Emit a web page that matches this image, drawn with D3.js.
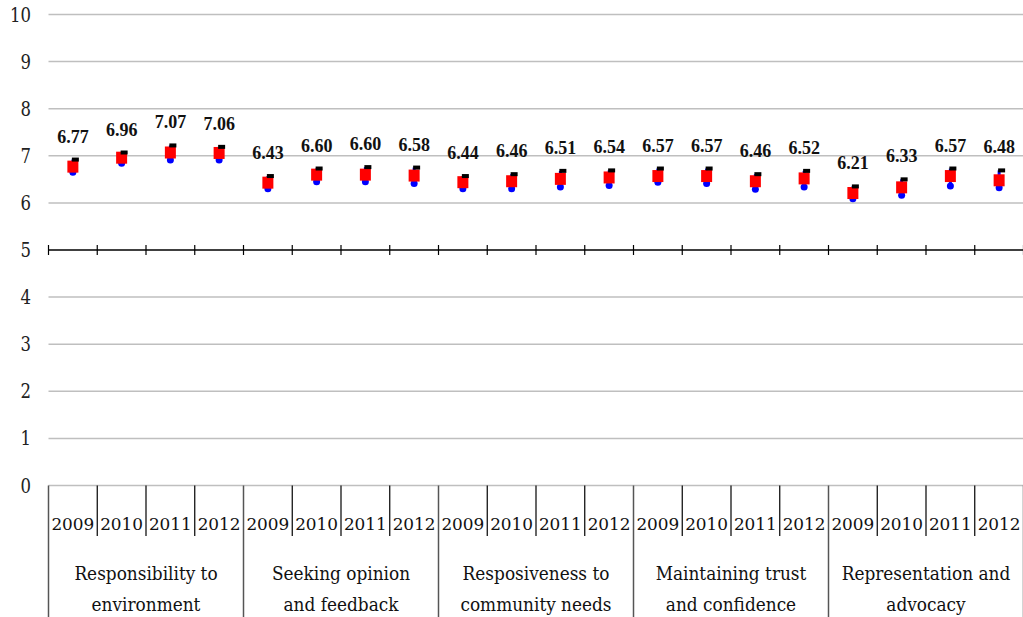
<!DOCTYPE html>
<html>
<head>
<meta charset="utf-8">
<script src="https://cdn.jsdelivr.net/npm/d3@7"></script>
<style>
  html, body { margin: 0; padding: 0; background: #fff; }
  svg { display: block; }
</style>
</head>
<body>
<svg id="chart" width="1023" height="617"></svg>
<script>
// Survey scores per dimension and year
const groups = [
  ["Responsibility to", "environment"],
  ["Seeking opinion", "and feedback"],
  ["Resposiveness to", "community needs"],
  ["Maintaining trust", "and confidence"],
  ["Representation and", "advocacy"]
];
const years = ["2009", "2010", "2011", "2012"];
const scores = [6.77, 6.96, 7.07, 7.06, 6.43, 6.60, 6.60, 6.58, 6.44, 6.46, 6.51, 6.54,
                6.57, 6.57, 6.46, 6.52, 6.21, 6.33, 6.57, 6.48];
const highs  = [6.92, 7.07, 7.22, 7.19, 6.57, 6.73, 6.76, 6.75, 6.57, 6.61, 6.68, 6.69,
                6.73, 6.73, 6.61, 6.68, 6.35, 6.50, 6.73, 6.69];
const lows   = [6.65, 6.84, 6.91, 6.91, 6.30, 6.45, 6.45, 6.41, 6.30, 6.30, 6.34, 6.37,
                6.44, 6.41, 6.29, 6.34, 6.09, 6.16, 6.36, 6.32];
const yTicks = [0, 1, 2, 3, 4, 5, 6, 7, 8, 9, 10];

const SERIF = "'DejaVu Serif', serif";
const BOLD_SERIF = "'Liberation Serif', serif";
const svg = d3.select("#chart").attr("font-family", SERIF);
const plotLeft = 48.5, plotRight = 1023.5, plotTop = 14.5, plotBottom = 485.5;

const keys = [];
groups.forEach((g, gi) => years.forEach(yr => keys.push(gi + "-" + yr)));
const points = keys.map((k, i) => ({
  key: k, year: years[i % 4], v: scores[i], hi: highs[i], lo: lows[i]
}));

const x = d3.scaleBand().domain(keys).range([plotLeft, plotRight]).padding(0);
const y = d3.scaleLinear().domain([0, 10]).range([plotBottom, plotTop]);
const bw = x.bandwidth();

// Gridlines (5 is drawn as the crossing axis)
svg.append("g").selectAll("line")
  .data(yTicks.filter(t => t !== 5))
  .join("line")
  .attr("x1", plotLeft).attr("x2", plotRight)
  .attr("y1", d => y(d)).attr("y2", d => y(d))
  .attr("stroke", "#bfbfbf").attr("stroke-width", 1.5);

// Y tick labels
svg.append("g").selectAll("text")
  .data(yTicks)
  .join("text")
  .attr("x", 31).attr("y", d => y(d) + 7)
  .attr("text-anchor", "end")
  .attr("font-family", SERIF)
  .attr("font-size", 20).attr("fill", "#222")
  .attr("textLength", d => (String(d).length === 2 ? 21 : 10.5))
  .attr("lengthAdjust", "spacingAndGlyphs")
  .text(d => d);

// Horizontal axis crossing at 5 with category ticks
const axisY = y(5);
const axis = d3.axisBottom(x).tickSize(0).tickFormat("");
const ax = svg.append("g").attr("transform", `translate(0,${axisY})`).call(axis);
ax.select(".domain").attr("stroke", "#000").attr("stroke-width", 1.5).attr("d", `M${plotLeft},0H${plotRight}`);
const boundaries = d3.range(keys.length + 1).map(i => plotLeft + i * bw);
svg.append("g").selectAll("line")
  .data(boundaries)
  .join("line")
  .attr("x1", d => d).attr("x2", d => d)
  .attr("y1", axisY - 5).attr("y2", axisY + 5)
  .attr("stroke", "#000").attr("stroke-width", 1.2);

// Category table below the plot
const table = svg.append("g");
table.selectAll("line.yr")
  .data(boundaries)
  .join("line")
  .attr("class", "yr")
  .attr("x1", d => d).attr("x2", d => d)
  .attr("y1", plotBottom)
  .attr("y2", (d, i) => (i % 4 === 0 ? 617 : 536))
  .attr("stroke", (d, i) => (i % 4 === 0 ? "#555" : "#000"))
  .attr("stroke-width", (d, i) => (i % 4 === 0 ? 1.5 : 1.2));

table.selectAll("text.year")
  .data(points)
  .join("text")
  .attr("class", "year")
  .attr("x", d => x(d.key) + bw / 2)
  .attr("y", 530)
  .attr("text-anchor", "middle")
  .attr("font-family", SERIF)
  .attr("font-size", 17.5).attr("fill", "#111")
  .attr("textLength", 43).attr("lengthAdjust", "spacingAndGlyphs")
  .attr("transform", "translate(0,0)")
  .text(d => d.year);

// Two-line group captions, each line condensed slightly
const groupLines = [];
groups.forEach((g, gi) => g.forEach((line, li) => groupLines.push({ gi, li, line })));
table.selectAll("text.group")
  .data(groupLines)
  .join("text")
  .attr("class", "group")
  .attr("x", d => plotLeft + (d.gi * 4 + 2) * bw)
  .attr("y", d => 580 + d.li * 31)
  .attr("text-anchor", "middle")
  .attr("font-family", SERIF)
  .attr("font-size", 18).attr("fill", "#111")
  .text(d => d.line)
  .each(function () {
    const w = this.getComputedTextLength();
    d3.select(this).attr("textLength", w * 0.94).attr("lengthAdjust", "spacingAndGlyphs");
  });

// High-low lines
const marks = svg.append("g");
marks.selectAll("line.hl")
  .data(points)
  .join("line")
  .attr("class", "hl")
  .attr("x1", d => x(d.key) + bw / 2).attr("x2", d => x(d.key) + bw / 2)
  .attr("y1", d => y(d.hi)).attr("y2", d => y(d.lo))
  .attr("stroke", "#0000ff").attr("stroke-width", 3);

// Low markers
marks.selectAll("circle.lo")
  .data(points)
  .join("circle")
  .attr("class", "lo")
  .attr("cx", d => x(d.key) + bw / 2)
  .attr("cy", d => y(d.lo))
  .attr("r", 3.5)
  .attr("fill", "#0000ff");

// Score markers
marks.selectAll("rect.score")
  .data(points)
  .join("rect")
  .attr("class", "score")
  .attr("x", d => x(d.key) + bw / 2 - 5.5)
  .attr("y", d => y(d.v) - 6)
  .attr("width", 11).attr("height", 12)
  .attr("fill", "#ff0000");

// High markers
marks.selectAll("rect.hi")
  .data(points)
  .join("rect")
  .attr("class", "hi")
  .attr("x", d => x(d.key) + bw / 2 - 1)
  .attr("y", d => y(d.hi) - 2)
  .attr("width", 7).attr("height", 4)
  .attr("fill", "#000");

// Value labels
marks.selectAll("text.val")
  .data(points)
  .join("text")
  .attr("class", "val")
  .attr("x", d => x(d.key) + bw / 2)
  .attr("y", d => y(d.hi) - 17)
  .attr("text-anchor", "middle")
  .attr("font-family", BOLD_SERIF)
  .attr("font-size", 18).attr("font-weight", "bold").attr("fill", "#111")
  .text(d => d.v.toFixed(2));
</script>
</body>
</html>
